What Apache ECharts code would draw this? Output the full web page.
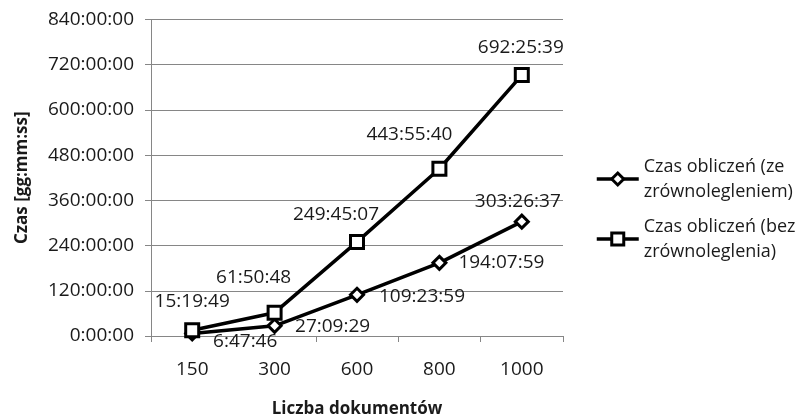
<!DOCTYPE html>
<html>
<head>
<meta charset="utf-8">
<script src="https://cdn.jsdelivr.net/npm/echarts@6/dist/echarts.min.js"></script>
<style>
html,body{margin:0;padding:0;background:#fff;}
#chart{width:796px;height:419px;}
</style>
</head>
<body>
<div id="chart"></div>
<script>
// ---- data ----
const categories = ['150', '300', '600', '800', '1000'];
const seriesNames = ['Czas obliczeń (ze\nzrównolegleniem)', 'Czas obliczeń (bez\nzrównoleglenia)'];
const timesParallel = ['6:47:46', '27:09:29', '109:23:59', '194:07:59', '303:26:37'];
const timesSerial = ['15:19:49', '61:50:48', '249:45:07', '443:55:40', '692:25:39'];
const yTicksHours = [0, 120, 240, 360, 480, 600, 720, 840];

// ---- label placement (style, not data) ----
const offsetsParallel = [[53, 8], [58, 1], [65, 2], [62, 0], [-4, -20]];
const offsetsSerial = [[0, -29], [-21, -35], [-21, -27], [-30, -34], [-1, -28]];

function toHours(s) {
  const p = s.split(':').map(Number);
  return p[0] + p[1] / 60 + p[2] / 3600;
}

const FONT = 'Open Sans';
const TXT = '#1a1a1a';
const GRID = '#868686';

function buildData(times, offsets) {
  return times.map((t, i) => ({
    value: toHours(t),
    label: { offset: offsets[i], formatter: t }
  }));
}

const chart = echarts.init(document.getElementById('chart'), null, { renderer: 'canvas' });

const commonSeries = {
  type: 'line',
  lineStyle: { color: '#000', width: 3.5 },
  itemStyle: { color: '#fff', borderColor: '#000', borderWidth: 3 },
  label: {
    show: true,
    position: 'inside',
    fontFamily: FONT,
    fontSize: 19,
    color: TXT
  },
  animation: false,
  z: 3
};

chart.setOption({
  animation: false,
  textStyle: { fontFamily: FONT },
  grid: { left: 151, right: 233, top: 19.5, bottom: 83, containLabel: false, outerBoundsMode: 'none' },
  xAxis: {
    type: 'category',
    data: categories,
    boundaryGap: true,
    name: 'Liczba dokumentów',
    nameLocation: 'middle',
    nameGap: 65,
    nameTextStyle: { fontFamily: FONT, fontSize: 17, fontWeight: 'bold', color: TXT },
    axisLine: { lineStyle: { color: GRID, width: 1 } },
    axisTick: { show: true, length: 6, lineStyle: { color: GRID } },
    axisLabel: { fontFamily: FONT, fontSize: 19, color: TXT, margin: 24 }
  },
  yAxis: {
    type: 'value',
    min: yTicksHours[0],
    max: yTicksHours[yTicksHours.length - 1],
    interval: yTicksHours[1] - yTicksHours[0],
    name: 'Czas [gg:mm:ss]',
    nameLocation: 'middle',
    nameGap: 120,
    nameTextStyle: { fontFamily: FONT, fontSize: 17, fontWeight: 'bold', color: TXT },
    axisLine: { show: true, lineStyle: { color: GRID, width: 1 } },
    axisTick: { show: true, length: 6, lineStyle: { color: GRID } },
    splitLine: { show: true, lineStyle: { color: GRID, width: 1 } },
    axisLabel: {
      fontFamily: FONT, fontSize: 19, color: TXT, margin: 17,
      formatter: v => v + ':00:00'
    }
  },
  legend: {
    orient: 'vertical',
    left: 595,
    top: 141.5,
    padding: 0,
    itemGap: -15,
    itemWidth: 42,
    itemHeight: 15,
    data: seriesNames,
    lineStyle: { width: 3.5 },
    itemStyle: { borderWidth: 3 },
    textStyle: {
      fontFamily: FONT, fontSize: 18, color: TXT,
      lineHeight: 25, padding: [25, 0, 0, 0]
    }
  },
  series: [
    Object.assign({}, commonSeries, {
      name: seriesNames[0],
      symbol: 'diamond',
      symbolSize: 13,
      data: buildData(timesParallel, offsetsParallel)
    }),
    Object.assign({}, commonSeries, {
      name: seriesNames[1],
      symbol: 'rect',
      symbolSize: 13,
      data: buildData(timesSerial, offsetsSerial)
    })
  ]
});
</script>
</body>
</html>
